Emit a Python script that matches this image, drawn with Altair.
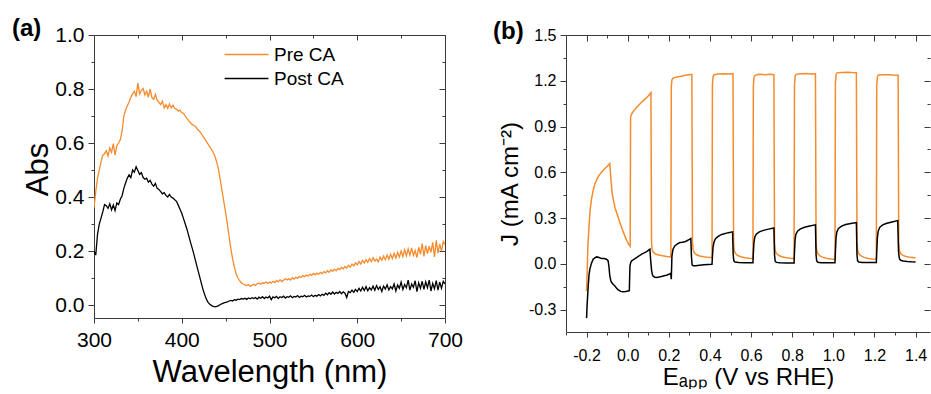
import altair as alt
import pandas as pd

FONT = "Liberation Sans"
AXC = "#3a3a3a"
ORANGE = "#F68B2C"

# ---------------- panel (a) data ----------------
wavelength = list(range(300, 701, 2))
abs_pre = [
    0.360, 0.420, 0.470, 0.500, 0.530, 0.555, 0.560, 0.572, 0.552, 0.582,
    0.566, 0.598, 0.555, 0.590, 0.600, 0.612, 0.645, 0.700, 0.722, 0.738,
    0.752, 0.770, 0.782, 0.792, 0.772, 0.822, 0.782, 0.795, 0.802, 0.778,
    0.792, 0.770, 0.800, 0.768, 0.762, 0.780, 0.758, 0.750, 0.742, 0.755,
    0.730, 0.742, 0.728, 0.745, 0.730, 0.740, 0.728, 0.726, 0.718, 0.722,
    0.712, 0.710, 0.700, 0.690, 0.682, 0.675, 0.668, 0.665, 0.660, 0.650,
    0.645, 0.636, 0.626, 0.616, 0.606, 0.596, 0.586, 0.576, 0.564, 0.548,
    0.528, 0.500, 0.462, 0.422, 0.382, 0.342, 0.300, 0.252, 0.208, 0.170,
    0.140, 0.115, 0.100, 0.090, 0.082, 0.078, 0.075, 0.072, 0.076, 0.070,
    0.073, 0.077, 0.073, 0.079, 0.081, 0.077, 0.083, 0.080, 0.086, 0.079,
    0.085, 0.082, 0.088, 0.083, 0.091, 0.086, 0.094, 0.087, 0.092, 0.098,
    0.093, 0.097, 0.092, 0.101, 0.096, 0.103, 0.099, 0.106, 0.102, 0.109,
    0.105, 0.111, 0.107, 0.114, 0.110, 0.117, 0.112, 0.118, 0.114, 0.121,
    0.116, 0.124, 0.119, 0.127, 0.121, 0.130, 0.125, 0.133, 0.127, 0.136,
    0.131, 0.139, 0.134, 0.143, 0.137, 0.147, 0.140, 0.152, 0.145, 0.156,
    0.149, 0.161, 0.152, 0.165, 0.156, 0.168, 0.158, 0.172, 0.161, 0.175,
    0.163, 0.170, 0.160, 0.178, 0.166, 0.181, 0.168, 0.185, 0.170, 0.188,
    0.172, 0.191, 0.174, 0.195, 0.178, 0.200, 0.180, 0.205, 0.182, 0.208,
    0.185, 0.212, 0.184, 0.202, 0.176, 0.214, 0.188, 0.228, 0.180, 0.220,
    0.190, 0.218, 0.195, 0.232, 0.178, 0.240, 0.192, 0.226, 0.200, 0.235,
    0.225,
]
abs_post = [
    0.200, 0.185, 0.262, 0.300, 0.322, 0.345, 0.372, 0.368, 0.358, 0.375,
    0.352, 0.370, 0.350, 0.378, 0.372, 0.392, 0.405, 0.432, 0.452, 0.470,
    0.482, 0.472, 0.500, 0.492, 0.512, 0.498, 0.484, 0.490, 0.472, 0.466,
    0.470, 0.455, 0.462, 0.448, 0.440, 0.450, 0.432, 0.428, 0.420, 0.412,
    0.416, 0.406, 0.400, 0.410, 0.400, 0.396, 0.390, 0.384, 0.370, 0.355,
    0.340, 0.320, 0.300, 0.280, 0.256, 0.232, 0.210, 0.186, 0.160, 0.135,
    0.110, 0.085, 0.060, 0.040, 0.022, 0.010, 0.003, -0.002, -0.005, -0.007,
    -0.005, -0.002, 0.002, 0.005, 0.008, 0.010, 0.012, 0.015, 0.017, 0.015,
    0.020, 0.018, 0.022, 0.020, 0.024, 0.022, 0.025, 0.021, 0.026, 0.023,
    0.027, 0.024, 0.028, 0.022, 0.029, 0.025, 0.031, 0.024, 0.030, 0.026,
    0.033, 0.020, 0.030, 0.027, 0.032, 0.024, 0.031, 0.028, 0.033, 0.026,
    0.031, 0.029, 0.034, 0.027, 0.032, 0.030, 0.035, 0.028, 0.033, 0.031,
    0.036, 0.030, 0.034, 0.032, 0.037, 0.031, 0.036, 0.033, 0.039, 0.034,
    0.040, 0.036, 0.044, 0.038, 0.046, 0.040, 0.048, 0.041, 0.047, 0.043,
    0.050, 0.042, 0.049, 0.044, 0.028, 0.050, 0.046, 0.055, 0.047, 0.058,
    0.050, 0.062, 0.052, 0.066, 0.054, 0.068, 0.053, 0.064, 0.056, 0.070,
    0.055, 0.072, 0.058, 0.068, 0.050, 0.070, 0.059, 0.075, 0.056, 0.068,
    0.060, 0.078, 0.052, 0.074, 0.062, 0.085, 0.058, 0.076, 0.064, 0.092,
    0.055, 0.078, 0.066, 0.090, 0.050, 0.082, 0.062, 0.088, 0.058, 0.086,
    0.064, 0.092, 0.052, 0.080, 0.060, 0.090, 0.055, 0.085, 0.062, 0.088,
    0.078,
]

# ---------------- panel (b) data ----------------
E_pre = [
    -0.200, -0.197, -0.194, -0.189, -0.183, -0.176, -0.168, -0.160, -0.148, -0.135, -0.122, -0.111, -0.098, -0.087,
    -0.084, -0.080, -0.075, -0.068, -0.062, -0.050, -0.038, -0.026, -0.014, -0.004, 0.005, 0.012,
    0.014, 0.017, 0.022, 0.040, 0.060, 0.080, 0.100, 0.113,
    0.116, 0.119, 0.124, 0.135, 0.150, 0.170, 0.190, 0.210,
    0.212, 0.215, 0.220, 0.240, 0.260, 0.280, 0.300, 0.312,
    0.315, 0.318, 0.323, 0.335, 0.350, 0.370, 0.390, 0.410,
    0.412, 0.415, 0.420, 0.440, 0.470, 0.490, 0.512,
    0.515, 0.518, 0.523, 0.535, 0.550, 0.570, 0.590, 0.609,
    0.611, 0.614, 0.619, 0.640, 0.670, 0.690, 0.711,
    0.714, 0.717, 0.722, 0.735, 0.750, 0.770, 0.790, 0.809,
    0.811, 0.814, 0.819, 0.840, 0.870, 0.890, 0.913,
    0.916, 0.919, 0.924, 0.935, 0.950, 0.970, 0.990, 1.008,
    1.010, 1.013, 1.018, 1.040, 1.070, 1.090, 1.112,
    1.115, 1.118, 1.123, 1.135, 1.150, 1.170, 1.190, 1.209,
    1.211, 1.214, 1.219, 1.240, 1.270, 1.290, 1.315,
    1.318, 1.321, 1.326, 1.338, 1.355, 1.375, 1.400,
]
J_pre = [
    -0.177, -0.050, 0.100, 0.228, 0.350, 0.424, 0.480, 0.522, 0.560, 0.588, 0.610, 0.625, 0.642, 0.658,
    0.600, 0.530, 0.457, 0.410, 0.370, 0.320, 0.271, 0.225, 0.184, 0.152, 0.128, 0.115,
    0.960, 0.975, 0.990, 1.020, 1.050, 1.075, 1.100, 1.122,
    0.140, 0.095, 0.078, 0.065, 0.058, 0.053, 0.049, 0.046,
    1.160, 1.205, 1.218, 1.225, 1.230, 1.236, 1.240, 1.242,
    0.140, 0.095, 0.075, 0.060, 0.052, 0.047, 0.043, 0.041,
    1.170, 1.225, 1.240, 1.245, 1.246, 1.245, 1.246,
    0.140, 0.090, 0.070, 0.055, 0.047, 0.041, 0.037, 0.035,
    1.160, 1.220, 1.236, 1.242, 1.240, 1.243, 1.240,
    0.140, 0.090, 0.070, 0.055, 0.047, 0.041, 0.037, 0.035,
    1.170, 1.228, 1.242, 1.246, 1.247, 1.245, 1.246,
    0.140, 0.090, 0.068, 0.052, 0.043, 0.036, 0.032, 0.030,
    1.180, 1.240, 1.252, 1.255, 1.256, 1.254, 1.253,
    0.140, 0.090, 0.068, 0.052, 0.043, 0.036, 0.032, 0.030,
    1.170, 1.225, 1.238, 1.240, 1.240, 1.238, 1.237,
    0.140, 0.090, 0.070, 0.056, 0.048, 0.043, 0.040,
]
E_post = [
    -0.200, -0.197, -0.192, -0.188, -0.184, -0.176, -0.168, -0.160, -0.151, -0.139, -0.127, -0.115, -0.103, -0.095,
    -0.091, -0.087, -0.082, -0.078, -0.070, -0.062, -0.054, -0.046, -0.034, -0.022, -0.010, 0.002, 0.008,
    0.011, 0.015, 0.019, 0.030, 0.043, 0.055, 0.068, 0.080, 0.092, 0.108,
    0.112, 0.116, 0.120, 0.124, 0.132, 0.140, 0.152, 0.165, 0.177, 0.189, 0.200, 0.209, 0.212,
    0.215, 0.220, 0.229, 0.240, 0.254, 0.266, 0.278, 0.292, 0.307,
    0.310, 0.313, 0.318, 0.330, 0.350, 0.370, 0.390, 0.410,
    0.412, 0.415, 0.420, 0.427, 0.440, 0.455, 0.470, 0.490, 0.510,
    0.513, 0.516, 0.522, 0.540, 0.570, 0.590, 0.609,
    0.611, 0.614, 0.618, 0.625, 0.640, 0.660, 0.685, 0.711,
    0.714, 0.717, 0.723, 0.740, 0.770, 0.790, 0.809,
    0.811, 0.814, 0.818, 0.826, 0.840, 0.860, 0.885, 0.913,
    0.916, 0.919, 0.925, 0.940, 0.970, 0.990, 1.008,
    1.010, 1.013, 1.017, 1.025, 1.040, 1.060, 1.085, 1.112,
    1.115, 1.118, 1.124, 1.140, 1.170, 1.190, 1.209,
    1.211, 1.214, 1.218, 1.226, 1.240, 1.260, 1.285, 1.313,
    1.317, 1.321, 1.327, 1.340, 1.360, 1.380, 1.400,
]
J_post = [
    -0.355, -0.260, -0.144, -0.070, -0.034, 0.005, 0.031, 0.040, 0.046, 0.042, 0.035, 0.036, 0.031, 0.020,
    -0.020, -0.078, -0.110, -0.122, -0.135, -0.144, -0.160, -0.170, -0.180, -0.183, -0.181, -0.177, -0.175,
    -0.013, 0.010, 0.020, 0.030, 0.042, 0.052, 0.064, 0.072, 0.081, 0.097,
    0.020, -0.040, -0.070, -0.080, -0.087, -0.089, -0.086, -0.082, -0.078, -0.074, -0.068, -0.061, -0.100,
    0.050, 0.095, 0.118, 0.130, 0.140, 0.142, 0.145, 0.155, 0.167,
    0.050, -0.005, -0.012, -0.012, -0.009, -0.006, -0.004, -0.002,
    0.050, 0.110, 0.145, 0.165, 0.180, 0.192, 0.198, 0.205, 0.210,
    0.060, 0.020, 0.012, 0.009, 0.008, 0.008, 0.008,
    0.070, 0.140, 0.175, 0.195, 0.210, 0.220, 0.228, 0.236,
    0.060, 0.018, 0.010, 0.007, 0.006, 0.006, 0.006,
    0.080, 0.160, 0.195, 0.215, 0.230, 0.240, 0.248, 0.256,
    0.060, 0.020, 0.011, 0.008, 0.008, 0.008, 0.008,
    0.080, 0.170, 0.210, 0.232, 0.248, 0.258, 0.265, 0.271,
    0.060, 0.020, 0.012, 0.010, 0.010, 0.010, 0.010,
    0.080, 0.170, 0.215, 0.240, 0.256, 0.266, 0.275, 0.284,
    0.080, 0.035, 0.024, 0.019, 0.016, 0.014, 0.013,
]
assert len(abs_pre) == len(wavelength) == len(abs_post)
assert len(E_pre) == len(J_pre) and len(E_post) == len(J_post)

series_names = ["Pre CA", "Post CA"]
series_colors = [ORANGE, "#000000"]

a_x_major = [300, 400, 500, 600, 700]
a_x_minor = [350, 450, 550, 650]
a_y_major = [0.0, 0.2, 0.4, 0.6, 0.8, 1.0]
a_y_minor = [0.1, 0.3, 0.5, 0.7, 0.9]
b_x_major = [-0.2, 0.0, 0.2, 0.4, 0.6, 0.8, 1.0, 1.2, 1.4]
b_x_minor = [-0.3, -0.1, 0.1, 0.3, 0.5, 0.7, 0.9, 1.1, 1.3]
b_y_major = [-0.3, 0.0, 0.3, 0.6, 0.9, 1.2, 1.5]
b_y_minor = [-0.15, 0.15, 0.45, 0.75, 1.05, 1.35]

n = len(wavelength)
df_a = pd.DataFrame({
    "wl": wavelength + wavelength,
    "A": abs_pre + abs_post,
    "series": ["Pre CA"] * n + ["Post CA"] * n,
    "idx": list(range(n)) * 2,
})
df_b = pd.DataFrame({
    "E": E_pre + E_post,
    "J": J_pre + J_post,
    "series": ["Pre CA"] * len(E_pre) + ["Post CA"] * len(E_post),
    "idx": list(range(len(E_pre))) + list(range(len(E_post))),
})

LABEL_EXPR = "replace(format(datum.value, '.1f'), '\u2212', '-')"


def guide(orient, values, size, offset=0, domain=False):
    return alt.Axis(orient=orient, values=values, tickSize=size, offset=offset,
                    labels=False, domain=domain, ticks=size > 0, grid=False, title=None)


def guide_layer(df, xf, yf, xs, ys, xaxis, yaxis):
    return alt.Chart(df.head(1)).mark_point(opacity=0).encode(
        x=alt.X(xf, type="quantitative", scale=xs, axis=xaxis),
        y=alt.Y(yf, type="quantitative", scale=ys, axis=yaxis),
    )


color_scale = alt.Scale(domain=series_names, range=series_colors)

# ---------------- panel (a) ----------------
xs_a = alt.Scale(domain=[300, 700], nice=False, zero=False)
ys_a = alt.Scale(domain=[-0.048, 1.0], nice=False, zero=False)

line_a = alt.Chart(df_a).mark_line(strokeWidth=1.3, clip=True).encode(
    x=alt.X("wl:Q", scale=xs_a, axis=alt.Axis(
        orient="bottom", values=a_x_major, format="d", title="Wavelength (nm)",
        titleFontSize=31, labelFontSize=21, tickSize=5, labelPadding=6, titlePadding=7,
        labelFlush=False, labelOverlap=False, grid=False)),
    y=alt.Y("A:Q", scale=ys_a, axis=alt.Axis(
        orient="left", values=a_y_major, format=".1f", title="Abs",
        titleFontSize=31, labelFontSize=21, tickSize=6, labelPadding=4, titlePadding=0,
        titleY=134, titleAlign="center",
        labelOverlap=False, grid=False)),
    color=alt.Color("series:N", scale=color_scale, legend=alt.Legend(
        orient="none", legendX=143, legendY=10, title=None, symbolType="M-5,0H5",
        symbolSize=77, symbolStrokeWidth=1.5, labelFontSize=19, labelOffset=18,
        rowPadding=4, padding=0, labelColor="black", labelFont=FONT)),
    order=alt.Order("idx:Q"),
)

panel_a = alt.layer(
    line_a,
    guide_layer(df_a, "wl", "A", xs_a, ys_a, guide("bottom", a_x_minor, 3), guide("left", a_y_minor, 3)),
    guide_layer(df_a, "wl", "A", xs_a, ys_a, guide("top", a_x_major, 5, -5), guide("right", a_y_major, 6, -6)),
    guide_layer(df_a, "wl", "A", xs_a, ys_a, guide("top", a_x_minor, 3, -3), guide("right", a_y_minor, 3, -3)),
    guide_layer(df_a, "wl", "A", xs_a, ys_a, guide("top", [], 0, 0, True), guide("right", [], 0, 0, True)),
).resolve_axis(x="independent", y="independent").properties(
    width=351, height=283,
    title=alt.TitleParams("(a)", anchor="start", frame="group", fontSize=24, fontWeight="bold",
                          font=FONT, color="black", dx=-82, dy=17, offset=0),
)

# ---------------- panel (b) ----------------
xs_b = alt.Scale(domain=[-0.3, 1.47], nice=False, zero=False)
ys_b = alt.Scale(domain=[-0.446, 1.5], nice=False, zero=False)

line_b = alt.Chart(df_b).mark_line(strokeWidth=1.5, clip=True).encode(
    x=alt.X("E:Q", scale=xs_b, axis=alt.Axis(
        orient="bottom", values=b_x_major, labelExpr=LABEL_EXPR, title="E\u2090\u209a\u209a (V vs RHE)",
        titleFontSize=24, labelFontSize=16, tickSize=5, labelPadding=10, titlePadding=2,
        labelFlush=False, labelOverlap=False, grid=False)),
    y=alt.Y("J:Q", scale=ys_b, axis=alt.Axis(
        orient="left", values=b_y_major, labelExpr=LABEL_EXPR, title="J (mA cm\u207b\u00b2)",
        titleFontSize=24, labelFontSize=16, tickSize=6, labelPadding=4, titlePadding=6,
        labelOverlap=False, grid=False)),
    color=alt.Color("series:N", scale=color_scale, legend=None),
    order=alt.Order("idx:Q"),
)

panel_b = alt.layer(
    line_b,
    guide_layer(df_b, "E", "J", xs_b, ys_b, guide("bottom", b_x_minor, 3), guide("left", b_y_minor, 3)),
    guide_layer(df_b, "E", "J", xs_b, ys_b, guide("top", b_x_major, 6, -6), guide("right", b_y_major, 6, -6)),
    guide_layer(df_b, "E", "J", xs_b, ys_b, guide("top", b_x_minor, 3, -3), guide("right", b_y_minor, 3, -3)),
    guide_layer(df_b, "E", "J", xs_b, ys_b, guide("top", [], 0, 0, True), None),
).resolve_axis(x="independent", y="independent").properties(
    width=364, height=297,
    title=alt.TitleParams("(b)", anchor="start", frame="group", fontSize=24, fontWeight="bold",
                          font=FONT, color="black", dx=-73, dy=17, offset=0),
)

chart = alt.hconcat(panel_a, panel_b, spacing=121, bounds="flush").resolve_scale(
    color="independent", x="independent", y="independent"
).properties(
    padding={"left": 12, "top": 17, "right": 0, "bottom": 0}
).configure(font=FONT).configure_axis(
    labelFont=FONT, titleFont=FONT, labelColor="black", titleColor="black",
    domainColor=AXC, tickColor=AXC, titleFontWeight="normal", domainWidth=1, tickWidth=1,
).configure_view(stroke=None)

chart.save("out.html", embed_options={"renderer": "svg", "actions": False})
